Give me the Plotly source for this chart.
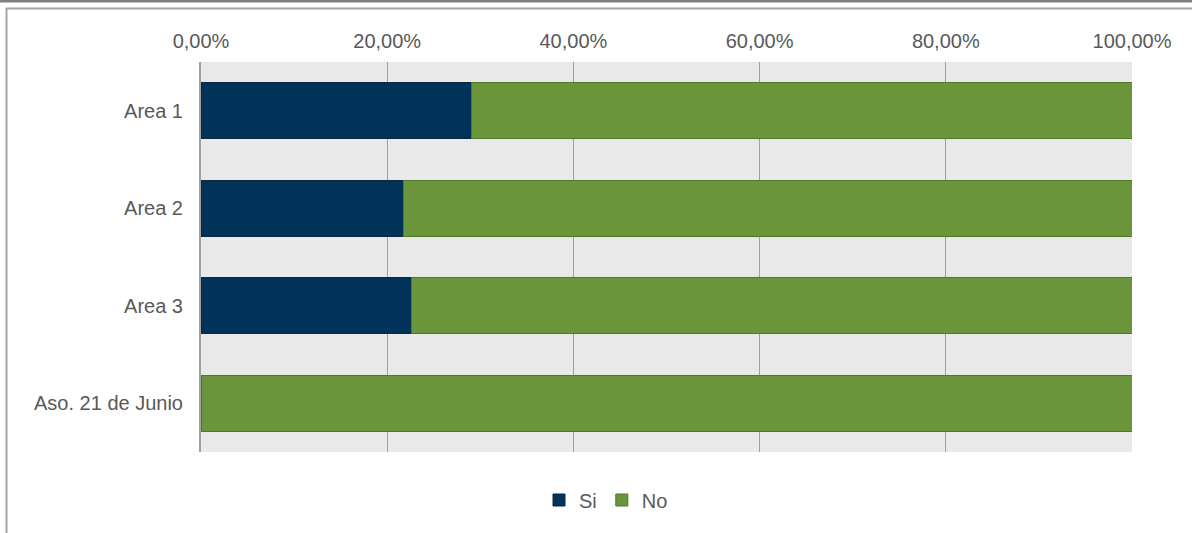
import plotly.graph_objects as go

categories = ["Area 1", "Area 2", "Area 3", "Aso. 21 de Junio"]
si_values = [0.291, 0.217, 0.226, 0.0]
no_values = [0.709, 0.783, 0.774, 1.0]
x_ticks = [0, 0.2, 0.4, 0.6, 0.8, 1.0]

W, H = 1192, 533
L, R, T, B = 201, 1132, 62, 452

fig = go.Figure()
fig.add_trace(go.Bar(
    y=categories, x=si_values, name="Si", orientation="h",
    marker=dict(color="#00325A", line=dict(color="#0B2742", width=1)),
    width=0.575,
))
fig.add_trace(go.Bar(
    y=categories, x=no_values, name="No", orientation="h",
    marker=dict(color="#6A953B", line=dict(color="#4E7A28", width=1)),
    width=0.575,
))

def px_x(p):
    return (p - L) / (R - L)

def px_y(p):
    return (B - p) / (B - T)

shapes = [
    # top dark strip
    dict(type="rect", xref="paper", yref="paper", x0=px_x(0), x1=px_x(W), y0=px_y(0), y1=px_y(2.5),
         fillcolor="#7F7F86", line=dict(width=0), layer="above"),
    # frame top line
    dict(type="line", xref="paper", yref="paper", x0=px_x(6), x1=px_x(W), y0=px_y(8.5), y1=px_y(8.5),
         line=dict(color="#A6A6A6", width=2)),
    # frame left line
    dict(type="line", xref="paper", yref="paper", x0=px_x(6.5), x1=px_x(6.5), y0=px_y(8), y1=px_y(H),
         line=dict(color="#A6A6A6", width=2)),
]

fig.update_layout(
    width=W, height=H,
    margin=dict(l=L, r=W - R, t=T, b=H - B, autoexpand=False),
    barmode="stack",
    bargap=0.425,
    plot_bgcolor="#E8E9E8",
    paper_bgcolor="white",
    separators=",.",
    font=dict(family="Liberation Sans, Arial, sans-serif", size=20, color="#595959"),
    xaxis=dict(
        side="top", range=[0, 1], tickvals=x_ticks, tickformat=".2%",
        showgrid=True, gridcolor="#A0A0A0", gridwidth=1,
        zeroline=False, showline=False,
        ticks="outside", ticklen=5, tickcolor="rgba(0,0,0,0)",
        tickfont=dict(size=20, color="#595959"),
        fixedrange=True,
    ),
    yaxis=dict(
        autorange="reversed", showgrid=False, zeroline=False,
        showline=True, linecolor="#A0A0A0", linewidth=2,
        ticks="outside", ticklen=12, tickcolor="rgba(0,0,0,0)",
        tickfont=dict(size=20, color="#595959"),
        fixedrange=True,
    ),
    legend=dict(
        orientation="h", x=px_x(606), xanchor="center", y=px_y(500), yanchor="middle",
        font=dict(size=20, color="#595959"), itemwidth=30, tracegroupgap=0,
        traceorder="normal", bgcolor="rgba(0,0,0,0)",
    ),
    shapes=shapes,
    showlegend=True,
)

fig.write_html("out.html", config={"displayModeBar": False},
               post_script="document.body.style.margin='0';document.body.style.padding='0';")
